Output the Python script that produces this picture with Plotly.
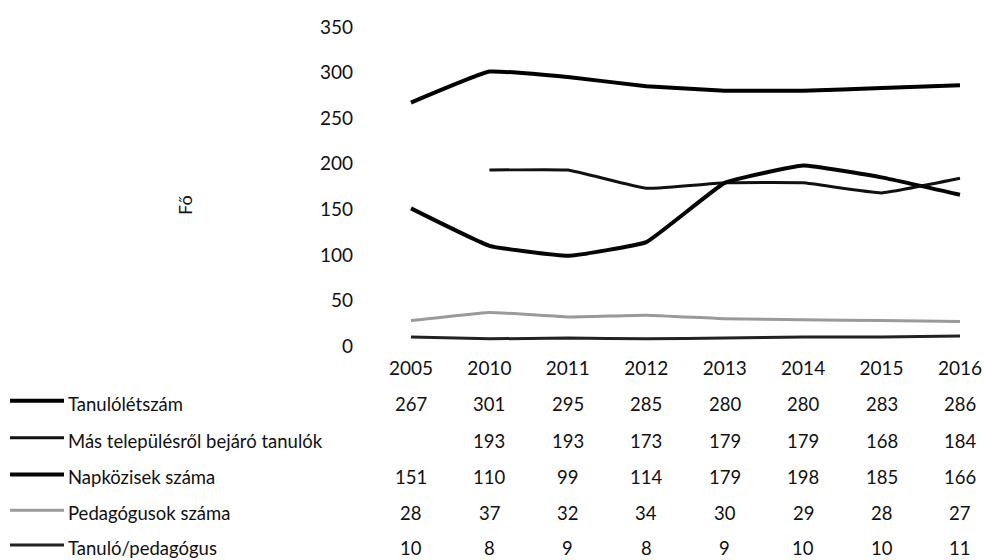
import plotly.graph_objects as go

years = ["2005", "2010", "2011", "2012", "2013", "2014", "2015", "2016"]

tanulo_letszam = [267, 301, 295, 285, 280, 280, 283, 286]
mas_telepules = [None, 193, 193, 173, 179, 179, 168, 184]
napkozis = [151, 110, 99, 114, 179, 198, 185, 166]
pedagogusok = [28, 37, 32, 34, 30, 29, 28, 27]
tanulo_per_ped = [10, 8, 9, 8, 9, 10, 10, 11]

series_names = ["Tanulólétszám", "Más településről bejáró tanulók",
                "Napközisek száma", "Pedagógusok száma", "Tanuló/pedagógus"]
series_values = [tanulo_letszam, mas_telepules, napkozis, pedagogusok, tanulo_per_ped]
series_colors = ["#000000", "#111111", "#050505", "#9a9a9a", "#222222"]
series_widths = [4, 3, 4, 3, 3]

FONT = "Lato"
W, H = 985, 560


def py(pix):
    # pixel row -> paper y
    return (H - pix) / H


def px(pix):
    return pix / W


fig = go.Figure()
xs = list(range(len(years)))
for name, vals, col, wd in zip(series_names, series_values, series_colors, series_widths):
    fig.add_trace(go.Scatter(x=xs, y=vals, name=name, mode="lines",
                             line=dict(color=col, width=wd, shape="spline", smoothing=0.3),
                             connectgaps=False, showlegend=False, hoverinfo="skip"))

# data table under the chart
row_pix = [405, 442, 479, 515, 550]
for name, vals, col, wd, rp in zip(series_names, series_values, series_colors, series_widths, row_pix):
    fig.add_shape(type="line", xref="paper", yref="paper",
                  x0=px(10), x1=px(64), y0=py(rp - 3), y1=py(rp - 3),
                  line=dict(color=col, width=wd))
    fig.add_annotation(x=px(66), y=py(rp), xref="paper", yref="paper", text=name,
                       showarrow=False, xanchor="left", yanchor="middle",
                       font=dict(family=FONT, size=18.5, color="#111"))
    for i, v in enumerate(vals):
        if v is None:
            continue
        fig.add_annotation(x=i, y=py(rp), xref="x", yref="paper", text=str(v),
                           showarrow=False, xanchor="center", yanchor="middle",
                           font=dict(family=FONT, size=18.5, color="#111"))

fig.add_annotation(x=px(172), y=py(205), xref="paper", yref="paper", text="Fő",
                   textangle=-90, showarrow=False,
                   font=dict(family=FONT, size=18, color="#111"))

fig.update_layout(
    width=W, height=H,
    margin=dict(l=0, r=0, t=0, b=0),
    paper_bgcolor="white", plot_bgcolor="white",
    font=dict(family=FONT, size=19, color="#111"),
    xaxis=dict(domain=[px(360), 1], range=[-0.650, 7.319],
               tickmode="array", tickvals=xs, ticktext=years,
               showgrid=False, zeroline=False, showline=False, ticks=""),
    yaxis=dict(domain=[py(356), py(15)], range=[-9.81, 362.0],
               tickvals=[0, 50, 100, 150, 200, 250, 300, 350],
               ticklabelstandoff=6,
               showgrid=False, zeroline=False, showline=False, ticks=""),
)

fig.write_html("out.html", config={"displayModeBar": False},
               post_script="document.body.style.margin='0';")
